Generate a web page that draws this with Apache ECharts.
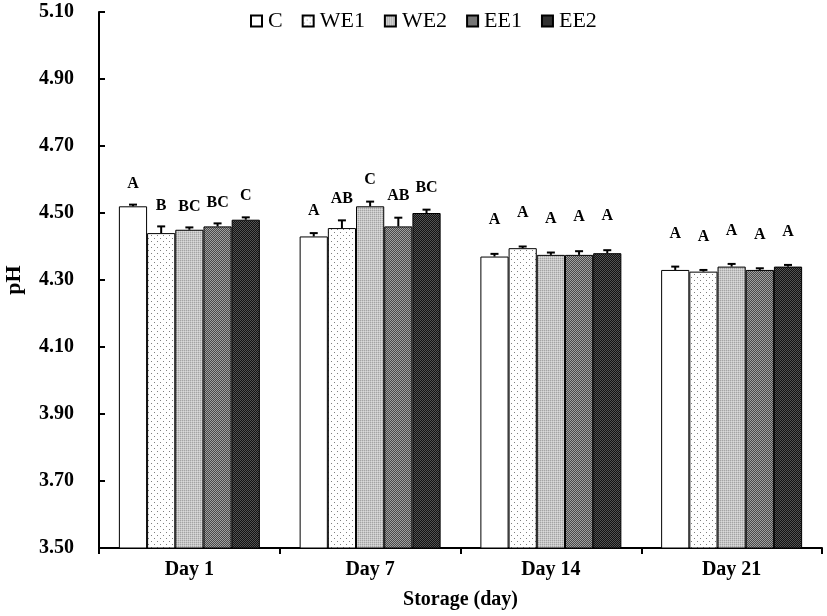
<!DOCTYPE html>
<html>
<head>
<meta charset="utf-8">
<script src="https://cdn.jsdelivr.net/npm/echarts@6/dist/echarts.min.js"></script>
<style>
  html, body { margin: 0; padding: 0; background: #fff; }
  #chart { width: 827px; height: 616px; }
</style>
</head>
<body>
<div id="chart"></div>
<script>
// categories and groups
const days = ["Day 1", "Day 7", "Day 14", "Day 21"];
const groups = ["C", "WE1", "WE2", "EE1", "EE2"];
const yTicks = [3.5, 3.7, 3.9, 4.1, 4.3, 4.5, 4.7, 4.9, 5.1];

// mean pH per group
const cMean = [4.52, 4.43, 4.37, 4.33];
const we1Mean = [4.44, 4.455, 4.395, 4.325];
const we2Mean = [4.45, 4.52, 4.375, 4.34];
const ee1Mean = [4.46, 4.46, 4.375, 4.33];
const ee2Mean = [4.48, 4.50, 4.38, 4.34];

// standard error (upper bars only)
const cErr = [0.005, 0.01, 0.008, 0.01];
const we1Err = [0.02, 0.023, 0.005, 0.005];
const we2Err = [0.007, 0.014, 0.007, 0.008];
const ee1Err = [0.009, 0.026, 0.011, 0.005];
const ee2Err = [0.007, 0.01, 0.009, 0.005];

// significance letters
const cSig = ["A", "A", "A", "A"];
const we1Sig = ["B", "AB", "A", "A"];
const we2Sig = ["BC", "C", "A", "A"];
const ee1Sig = ["BC", "AB", "A", "A"];
const ee2Sig = ["C", "BC", "A", "A"];

const means = [cMean, we1Mean, we2Mean, ee1Mean, ee2Mean];
const errs = [cErr, we1Err, we2Err, ee1Err, ee2Err];
const sigs = [cSig, we1Sig, we2Sig, ee1Sig, ee2Sig];

// letter distance above error cap, per day (px)
const letterGap = [21, 22, 34, 33];

const FONT = "Liberation Serif";
const CAT_GAP = 0.22;

// fill patterns, built on small canvases
function makePattern(w, h, paint) {
  const cv = document.createElement("canvas");
  cv.width = w;
  cv.height = h;
  const ctx = cv.getContext("2d");
  paint(ctx);
  return { image: cv, repeat: "repeat" };
}
function px(ctx, col, x, y) {
  ctx.fillStyle = col;
  ctx.fillRect(x, y, 1, 1);
}

const fills = [
  "#ffffff",
  makePattern(6, 6, function (ctx) {
    ctx.fillStyle = "#ffffff";
    ctx.fillRect(0, 0, 6, 6);
    px(ctx, "#808080", 1, 1);
    px(ctx, "#808080", 4, 4);
  }),
  makePattern(2, 2, function (ctx) {
    ctx.fillStyle = "#c6c6c6";
    ctx.fillRect(0, 0, 2, 2);
    px(ctx, "#a4a4a4", 0, 0);
    px(ctx, "#dadada", 1, 1);
  }),
  makePattern(2, 2, function (ctx) {
    ctx.fillStyle = "#4a4a4a";
    ctx.fillRect(0, 0, 2, 2);
    px(ctx, "#a0a0a0", 0, 0);
    px(ctx, "#a0a0a0", 1, 1);
  }),
  makePattern(2, 2, function (ctx) {
    ctx.fillStyle = "#121212";
    ctx.fillRect(0, 0, 2, 2);
    px(ctx, "#525252", 0, 0);
    px(ctx, "#525252", 1, 1);
  })
];

const series = [];
groups.forEach(function (g, gi) {
  series.push({
    name: g,
    type: "bar",
    data: means[gi],
    barGap: 0,
    barCategoryGap: CAT_GAP * 100 + "%",
    itemStyle: { color: fills[gi], borderColor: "#000", borderWidth: 1 }
  });
});

// error bars + letters
groups.forEach(function (g, gi) {
  series.push({
    name: g + "-err",
    type: "custom",
    z: 5,
    data: days.map(function (d, i) { return [i, means[gi][i], errs[gi][i]]; }),
    encode: { x: 0, y: 1 },
    renderItem: function (params, api) {
      const idx = api.value(0);
      const band = api.size([1, 0])[0];
      const barW = band * (1 - CAT_GAP) / groups.length;
      const c0 = api.coord([idx, api.value(1)]);
      const c1 = api.coord([idx, api.value(1) + api.value(2)]);
      const x = c0[0] + (gi - (groups.length - 1) / 2) * barW;
      const cap = 4;
      return {
        type: "group",
        children: [
          { type: "line", shape: { x1: x, y1: c0[1], x2: x, y2: c1[1] },
            style: { stroke: "#000", lineWidth: 2 } },
          { type: "line", shape: { x1: x - cap, y1: c1[1], x2: x + cap, y2: c1[1] },
            style: { stroke: "#000", lineWidth: 2 } },
          { type: "text", x: x, y: c1[1] - letterGap[idx],
            style: { text: sigs[gi][idx], fill: "#000", align: "center",
              verticalAlign: "middle", font: "bold 16px '" + FONT + "'" } }
        ]
      };
    }
  });
});

const chart = echarts.init(document.getElementById("chart"));
chart.setOption({
  animation: false,
  backgroundColor: "#fff",
  textStyle: { fontFamily: FONT },
  legend: {
    data: groups,
    top: 5,
    left: 245,
    itemWidth: 11,
    itemHeight: 11,
    itemGap: 19,
    icon: "rect",
    textStyle: { fontFamily: FONT, fontSize: 22, color: "#000", padding: [0, 0, 0, 1] }
  },
  grid: { left: 99, right: 5, top: 12, bottom: 68, outerBoundsMode: "none", containLabel: false },
  xAxis: {
    type: "category",
    data: days,
    axisLine: { lineStyle: { color: "#000", width: 2 } },
    axisTick: { show: true, length: 6, lineStyle: { color: "#000", width: 2 } },
    axisLabel: { color: "#000", fontSize: 20, fontWeight: "bold", fontFamily: FONT, margin: 12 },
    name: "Storage (day)",
    nameLocation: "middle",
    nameGap: 42,
    nameTextStyle: { color: "#000", fontSize: 20, fontWeight: "bold", fontFamily: FONT }
  },
  yAxis: {
    type: "value",
    min: yTicks[0],
    max: yTicks[yTicks.length - 1],
    interval: 0.2,
    splitLine: { show: false },
    axisLine: { show: true, lineStyle: { color: "#000", width: 2 } },
    axisTick: { show: true, inside: true, length: 6, lineStyle: { color: "#000", width: 2 } },
    axisLabel: {
      color: "#000", fontSize: 20, fontWeight: "bold", fontFamily: FONT, margin: 25,
      formatter: function (v) { return v.toFixed(2); }
    },
    name: "pH",
    nameLocation: "middle",
    nameGap: 74,
    nameTextStyle: { color: "#000", fontSize: 22, fontWeight: "bold", fontFamily: FONT }
  },
  series: series
});
</script>
</body>
</html>
